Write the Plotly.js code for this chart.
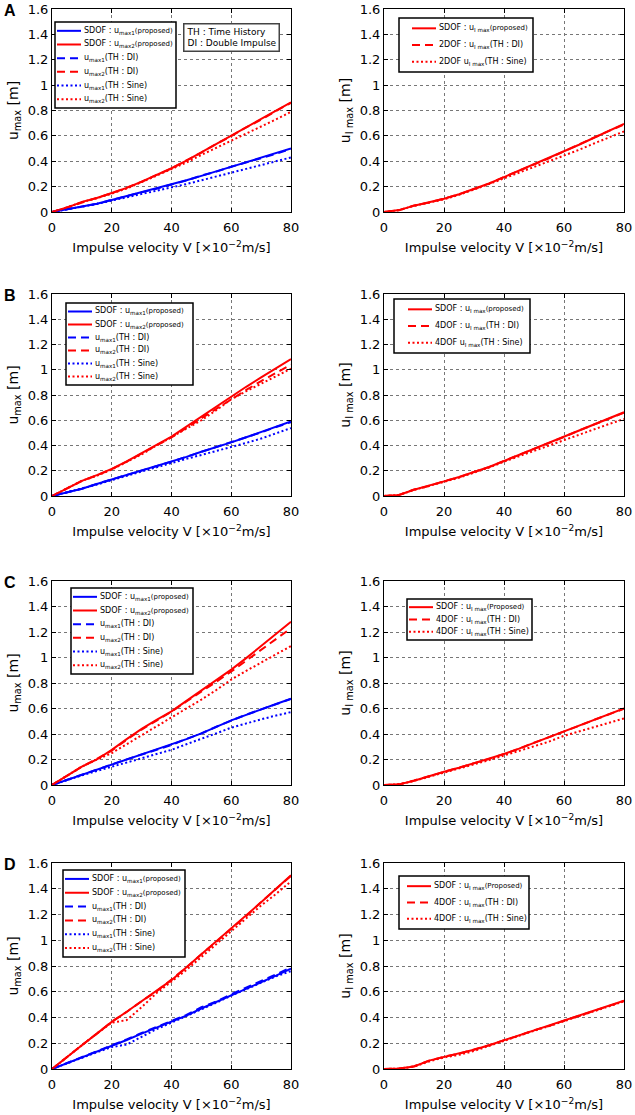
<!DOCTYPE html>
<html>
<head>
<meta charset="utf-8">
<script src="https://cdn.plot.ly/plotly-3.0.1.min.js"></script>
<style>
  html, body { margin: 0; padding: 0; background: #fff; }
  #chart { width: 635px; height: 1115px; }
</style>
</head>
<body>
<div id="chart"></div>
<script>
// impulse velocity V [x10^-2 m/s]
const V = [0, 5, 10, 15, 20, 25, 30, 35, 40, 45, 50, 55, 60, 65, 70, 75, 80];

// panel A (2DOF)
const aU1Prop = [0, 0.02, 0.04, 0.065, 0.095, 0.125, 0.155, 0.185, 0.215, 0.25, 0.285, 0.32, 0.355, 0.39, 0.425, 0.46, 0.50];
const aU1DI   = [0, 0.02, 0.042, 0.064, 0.096, 0.124, 0.157, 0.184, 0.217, 0.248, 0.287, 0.318, 0.357, 0.389, 0.427, 0.458, 0.497];
const aU1Sine = [0, 0.02, 0.04, 0.063, 0.09, 0.115, 0.14, 0.165, 0.19, 0.22, 0.25, 0.28, 0.31, 0.34, 0.37, 0.40, 0.43];
const aU2Prop = [0, 0.035, 0.08, 0.11, 0.15, 0.19, 0.24, 0.29, 0.345, 0.405, 0.47, 0.535, 0.60, 0.665, 0.73, 0.795, 0.865];
const aU2DI   = [0, 0.036, 0.078, 0.112, 0.148, 0.192, 0.238, 0.292, 0.343, 0.407, 0.468, 0.537, 0.598, 0.667, 0.728, 0.797, 0.86];
const aU2Sine = [0, 0.035, 0.078, 0.108, 0.145, 0.185, 0.235, 0.285, 0.335, 0.39, 0.45, 0.505, 0.56, 0.615, 0.67, 0.73, 0.79];
const aUIProp = [0, 0.015, 0.05, 0.075, 0.105, 0.14, 0.18, 0.225, 0.275, 0.325, 0.375, 0.425, 0.477, 0.53, 0.585, 0.64, 0.695];
const aUIDI   = [0, 0.014, 0.051, 0.074, 0.106, 0.139, 0.181, 0.224, 0.276, 0.324, 0.376, 0.424, 0.478, 0.529, 0.586, 0.639, 0.69];
const aUISine = [0, 0.015, 0.048, 0.073, 0.10, 0.135, 0.175, 0.22, 0.265, 0.31, 0.355, 0.40, 0.443, 0.49, 0.54, 0.585, 0.635];

// panel B (4DOF)
const bU1Prop = [0, 0.03, 0.058, 0.095, 0.131, 0.165, 0.20, 0.235, 0.273, 0.31, 0.35, 0.385, 0.425, 0.465, 0.505, 0.545, 0.59];
const bU1DI   = [0, 0.031, 0.057, 0.096, 0.13, 0.166, 0.199, 0.236, 0.272, 0.311, 0.349, 0.386, 0.424, 0.466, 0.504, 0.546, 0.585];
const bU1Sine = [0, 0.03, 0.055, 0.09, 0.126, 0.16, 0.195, 0.23, 0.26, 0.295, 0.325, 0.355, 0.386, 0.42, 0.455, 0.495, 0.538];
const bU2Prop = [0, 0.06, 0.12, 0.165, 0.215, 0.275, 0.34, 0.405, 0.47, 0.55, 0.63, 0.71, 0.79, 0.865, 0.94, 1.01, 1.085];
const bU2DI   = [0, 0.06, 0.12, 0.163, 0.213, 0.272, 0.335, 0.40, 0.465, 0.54, 0.615, 0.69, 0.77, 0.84, 0.91, 0.975, 1.04];
const bU2Sine = [0, 0.06, 0.12, 0.16, 0.21, 0.27, 0.33, 0.40, 0.465, 0.535, 0.60, 0.68, 0.766, 0.83, 0.89, 0.95, 1.008];
const bUIProp = [0, 0.008, 0.05, 0.08, 0.116, 0.15, 0.19, 0.23, 0.277, 0.325, 0.375, 0.42, 0.47, 0.52, 0.57, 0.615, 0.663];
const bUIDI   = [0, 0.008, 0.051, 0.079, 0.117, 0.149, 0.191, 0.229, 0.278, 0.324, 0.374, 0.421, 0.468, 0.519, 0.566, 0.612, 0.66];
const bUISine = [0, 0.008, 0.048, 0.078, 0.112, 0.145, 0.185, 0.225, 0.272, 0.315, 0.36, 0.40, 0.444, 0.485, 0.53, 0.57, 0.61];

// panel C (4DOF)
const cU1Prop = [0, 0.04, 0.08, 0.12, 0.157, 0.20, 0.24, 0.275, 0.315, 0.36, 0.405, 0.455, 0.507, 0.55, 0.595, 0.635, 0.677];
const cU1DI   = [0, 0.041, 0.081, 0.119, 0.158, 0.201, 0.239, 0.277, 0.314, 0.362, 0.404, 0.457, 0.505, 0.552, 0.593, 0.637, 0.675];
const cU1Sine = [0, 0.04, 0.075, 0.11, 0.144, 0.175, 0.21, 0.245, 0.276, 0.32, 0.36, 0.405, 0.45, 0.485, 0.515, 0.545, 0.572];
const cU2Prop = [0, 0.075, 0.144, 0.20, 0.276, 0.36, 0.44, 0.51, 0.577, 0.66, 0.74, 0.82, 0.905, 0.995, 1.09, 1.18, 1.28];
const cU2DI   = [0, 0.075, 0.144, 0.205, 0.27, 0.355, 0.435, 0.505, 0.575, 0.655, 0.73, 0.81, 0.89, 0.975, 1.06, 1.14, 1.23];
const cU2Sine = [0, 0.075, 0.144, 0.20, 0.25, 0.32, 0.39, 0.46, 0.525, 0.60, 0.67, 0.745, 0.827, 0.895, 0.96, 1.025, 1.09];
const cUIProp = [0, 0.005, 0.034, 0.07, 0.104, 0.135, 0.17, 0.205, 0.243, 0.285, 0.33, 0.375, 0.418, 0.465, 0.51, 0.555, 0.60];
const cUIDI   = [0, 0.005, 0.035, 0.069, 0.105, 0.134, 0.171, 0.204, 0.244, 0.284, 0.331, 0.374, 0.419, 0.464, 0.511, 0.553, 0.598];
const cUISine = [0, 0.005, 0.032, 0.066, 0.10, 0.13, 0.162, 0.195, 0.23, 0.265, 0.30, 0.34, 0.386, 0.42, 0.455, 0.49, 0.522];

// panel D (4DOF)
const dU1Prop = [0, 0.045, 0.088, 0.135, 0.18, 0.225, 0.275, 0.32, 0.366, 0.415, 0.47, 0.52, 0.574, 0.625, 0.675, 0.725, 0.78];
const dU1DI   = [0, 0.045, 0.09, 0.135, 0.185, 0.23, 0.28, 0.325, 0.37, 0.42, 0.48, 0.525, 0.58, 0.63, 0.685, 0.735, 0.79];
const dU1Sine = [0, 0.045, 0.088, 0.13, 0.17, 0.19, 0.25, 0.31, 0.36, 0.41, 0.465, 0.515, 0.57, 0.62, 0.67, 0.72, 0.76];
const dU2Prop = [0, 0.095, 0.184, 0.275, 0.366, 0.445, 0.525, 0.605, 0.69, 0.79, 0.89, 0.99, 1.088, 1.19, 1.295, 1.40, 1.504];
const dU2DI   = [0, 0.094, 0.185, 0.274, 0.368, 0.443, 0.527, 0.603, 0.692, 0.788, 0.892, 0.987, 1.09, 1.187, 1.297, 1.395, 1.50];
const dU2Sine = [0, 0.095, 0.184, 0.275, 0.36, 0.38, 0.48, 0.59, 0.678, 0.77, 0.87, 0.97, 1.07, 1.17, 1.27, 1.36, 1.457];
const dUIProp = [0, 0.003, 0.02, 0.065, 0.094, 0.12, 0.15, 0.185, 0.223, 0.26, 0.30, 0.335, 0.374, 0.415, 0.455, 0.49, 0.53];
const dUIDI   = [0, 0.003, 0.021, 0.064, 0.095, 0.119, 0.151, 0.184, 0.224, 0.259, 0.301, 0.334, 0.375, 0.414, 0.456, 0.489, 0.528];
const dUISine = [0, 0.003, 0.018, 0.058, 0.09, 0.11, 0.14, 0.18, 0.22, 0.258, 0.297, 0.333, 0.372, 0.41, 0.45, 0.487, 0.525];

// "(proposed)" is set a little smaller in the original legends
const SMALL = (s) => "<span style='font-size:7px'>" + s + "</span>";
const leftNames = [
  "SDOF : u<sub>max1</sub>" + SMALL("(proposed)"), "SDOF : u<sub>max2</sub>" + SMALL("(proposed)"),
  "u<sub>max1</sub>(TH : DI)", "u<sub>max2</sub>(TH : DI)",
  "u<sub>max1</sub>(TH : Sine)", "u<sub>max2</sub>(TH : Sine)"
];
const rightNamesA = ["SDOF : u<sub>I max</sub>" + SMALL("(proposed)"), "2DOF : u<sub>I max</sub>(TH : DI)", "2DOF u<sub>I max</sub>(TH : Sine)"];
const rightNamesB = ["SDOF : u<sub>I max</sub>" + SMALL("(proposed)"), "4DOF : u<sub>I max</sub>(TH : DI)", "4DOF u<sub>I max</sub>(TH : Sine)"];
const rightNamesCD = ["SDOF : u<sub>I max</sub>" + SMALL("(Proposed)"), "4DOF : u<sub>I max</sub>(TH : DI)", "4DOF : u<sub>I max</sub>(TH : Sine)"];

const BLUE = "#0000ff", RED = "#ff0000";
const DASH = "8px,5px", DOT = "2px,2.5px";
const W = 635, H = 1115;
const FONT = "DejaVu Sans, Liberation Sans, sans-serif";

// plot boxes in pixels
const colX = [[52, 291], [384, 624]];
const rowY = [[9, 212], [294, 496], [581, 785], [863, 1069]];
// legend boxes in pixels: left, top, right, bottom; and where the line sample starts
const legendBox = [[55, 22, 176, 108], [399, 18, 533, 72], [66, 303, 193, 385], [394, 299, 530, 353],
                   [71, 588, 193, 674], [407, 599, 532, 640], [63, 870, 185, 957], [399, 876, 529, 929]];
const sampleOffset = [2, 13, 2, 14, 2, 2, 2, 8];

let traces = [];
function line(panel, y, name, color, dash) {
  let n = panel + 1;
  traces.push({
    x: V, y: y, name: name, type: "scatter", mode: "lines",
    xaxis: n === 1 ? "x" : "x" + n, yaxis: n === 1 ? "y" : "y" + n,
    meta: panel,
    line: { color: color, width: 2, dash: dash }
  });
}

function leftPanel(p, u1p, u2p, u1d, u2d, u1s, u2s) {
  line(p, u1p, leftNames[0], BLUE, "solid");
  line(p, u2p, leftNames[1], RED, "solid");
  line(p, u1d, leftNames[2], BLUE, DASH);
  line(p, u2d, leftNames[3], RED, DASH);
  line(p, u1s, leftNames[4], BLUE, DOT);
  line(p, u2s, leftNames[5], RED, DOT);
}
function rightPanel(p, names, prop, di, sine) {
  line(p, prop, names[0], RED, "solid");
  line(p, di, names[1], RED, DASH);
  line(p, sine, names[2], RED, DOT);
}

leftPanel(0, aU1Prop, aU2Prop, aU1DI, aU2DI, aU1Sine, aU2Sine);
rightPanel(1, rightNamesA, aUIProp, aUIDI, aUISine);
leftPanel(2, bU1Prop, bU2Prop, bU1DI, bU2DI, bU1Sine, bU2Sine);
rightPanel(3, rightNamesB, bUIProp, bUIDI, bUISine);
leftPanel(4, cU1Prop, cU2Prop, cU1DI, cU2DI, cU1Sine, cU2Sine);
rightPanel(5, rightNamesCD, cUIProp, cUIDI, cUISine);
leftPanel(6, dU1Prop, dU2Prop, dU1DI, dU2DI, dU1Sine, dU2Sine);
rightPanel(7, rightNamesCD, dUIProp, dUIDI, dUISine);

let layout = {
  width: W, height: H,
  margin: { l: 0, r: 0, t: 0, b: 0 },
  paper_bgcolor: "#fff", plot_bgcolor: "#fff",
  font: { family: FONT, color: "#000", size: 13 },
  showlegend: false,
  annotations: [],
  shapes: []
};

for (let p = 0; p < 8; p++) {
  let col = p % 2, row = Math.floor(p / 2), n = p + 1;
  let xs = n === 1 ? "xaxis" : "xaxis" + n;
  let ys = n === 1 ? "yaxis" : "yaxis" + n;
  let common = {
    showline: true, linecolor: "#000", linewidth: 1, mirror: "ticks",
    ticks: "inside", ticklen: 4, tickcolor: "#000",
    showgrid: true, gridcolor: "#777", gridwidth: 1, griddash: "dot",
    zeroline: false, fixedrange: true,
    tickfont: { family: FONT, size: 13 }
  };
  layout[xs] = Object.assign({}, common, {
    domain: [colX[col][0] / W, colX[col][1] / W],
    anchor: n === 1 ? "y" : "y" + n,
    range: [0, 80], tickvals: [0, 20, 40, 60, 80],
    ticklabelstandoff: 3,
    title: { text: "Impulse velocity V [×10<sup>−2</sup>m/s]", font: { size: 13 }, standoff: 9 }
  });
  layout[ys] = Object.assign({}, common, {
    domain: [1 - rowY[row][1] / H, 1 - rowY[row][0] / H],
    anchor: n === 1 ? "x" : "x" + n,
    range: [0, 1.6], dtick: 0.2,
    title: { text: col === 0 ? "u<sub>max</sub> [m]" : "u<sub>I max</sub> [m]", font: { size: 14 }, standoff: 5 }
  });

  // legend box drawn from the panel's own traces
  let items = traces.filter(t => t.meta === p);
  let [L, T, R, B] = legendBox[p];
  layout.shapes.push({
    type: "rect", xref: "paper", yref: "paper", layer: "above",
    x0: L / W, x1: R / W, y0: 1 - B / H, y1: 1 - T / H,
    line: { color: "#000", width: 1.5 }, fillcolor: "#fff"
  });
  let step = (B - T - 4) / items.length;
  items.forEach((t, i) => {
    let cy = T + 2 + step * (i + 0.5);
    let sx = L + sampleOffset[p];
    layout.shapes.push({
      type: "line", xref: "paper", yref: "paper", layer: "above",
      x0: sx / W, x1: (sx + 24) / W, y0: 1 - cy / H, y1: 1 - cy / H,
      line: { color: t.line.color, width: 2, dash: t.line.dash }
    });
    layout.annotations.push({
      text: t.name, xref: "paper", yref: "paper",
      x: (sx + 25) / W, y: 1 - cy / H, xanchor: "left", yanchor: "middle",
      showarrow: false, font: { family: FONT, size: 8 }
    });
  });
}

// panel letters
["A", "B", "C", "D"].forEach((t, i) => {
  layout.annotations.push({
    text: "<b>" + t + "</b>", xref: "paper", yref: "paper",
    x: 2 / W, y: 1 - (rowY[i][0] + 1) / H, xanchor: "left", yanchor: "middle",
    showarrow: false, font: { family: "Liberation Sans, Arial, sans-serif", size: 16 }
  });
});

// TH / DI note in panel A
layout.annotations.push({
  text: "TH : Time History<br>DI : Double Impulse",
  xref: "paper", yref: "paper", x: 183 / W, y: 1 - 23 / H,
  xanchor: "left", yanchor: "top", align: "left", showarrow: false,
  bgcolor: "#fff", bordercolor: "#444", borderwidth: 1.5, borderpad: 2,
  font: { family: FONT, size: 9 }
});

Plotly.newPlot("chart", traces, layout, { displayModeBar: false, staticPlot: true });
</script>
</body>
</html>
